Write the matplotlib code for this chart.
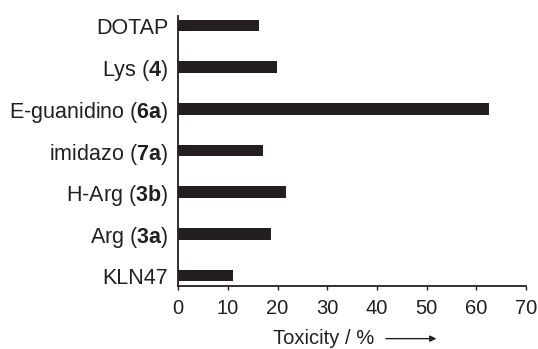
import matplotlib.pyplot as plt

plt.rcParams['font.family'] = ['Liberation Sans', 'DejaVu Sans']
plt.rcParams['mathtext.fontset'] = 'custom'
plt.rcParams['mathtext.rm'] = 'Liberation Sans'
plt.rcParams['mathtext.bf'] = 'Liberation Sans:bold'

# Data (top to bottom as in the figure)
labels = ["DOTAP", "Lys ($\\mathbf{4}$)", "E-guanidino ($\\mathbf{6a}$)",
          "imidazo ($\\mathbf{7a}$)", "H-Arg ($\\mathbf{3b}$)",
          "Arg ($\\mathbf{3a}$)", "KLN47"]
toxicity = [16.3, 19.8, 62.6, 17.1, 21.7, 18.7, 11.0]

fig = plt.figure(figsize=(5.38, 3.49), dpi=100)
ax = fig.add_axes([0.331, 0.1805, 0.647, 0.7735])

pos = list(range(len(labels)))[::-1]
ax.barh(pos, toxicity, height=0.28, color="#231f20")

ax.set_xlim(0, 70)
ax.set_ylim(-0.25, 6.23)
ax.set_xticks(range(0, 71, 10))
ax.set_yticks(pos)
ax.set_yticklabels(labels)

for side in ["top", "right"]:
    ax.spines[side].set_visible(False)
for side in ["left", "bottom"]:
    ax.spines[side].set_linewidth(1.3)
    ax.spines[side].set_color("#231f20")

ax.tick_params(axis="y", length=0, pad=7, labelsize=15.5, colors="#231f20")
ax.tick_params(axis="x", length=3, width=1, pad=6, labelsize=14.5, colors="#231f20")

ax.set_xlabel("Toxicity / %", fontsize=14.5, color="#231f20")
ax.xaxis.set_label_coords(0.417, -0.158)

# arrow after the axis label
ax.annotate("", xy=(0.75, -0.195), xytext=(0.589, -0.195),
            xycoords="axes fraction", annotation_clip=False,
            arrowprops=dict(arrowstyle="-|>", lw=1, color="#231f20",
                            mutation_scale=9))

fig.savefig("out.png", dpi=100)
